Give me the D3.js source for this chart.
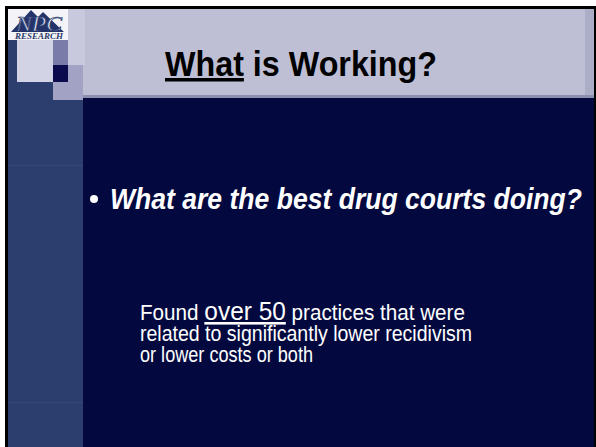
<!DOCTYPE html>
<html>
<head>
<meta charset="utf-8">
<script src="https://cdn.jsdelivr.net/npm/d3@7"></script>
<style>
  html, body { margin: 0; padding: 0; background: #fff; }
  svg { display: block; }
</style>
</head>
<body>
<div id="slide"></div>
<script>
// slide content
var titleParts = [
  {text: "What", underline: true},
  {text: " is Working?", underline: false}
];
var bulletLines = ["What are the best drug courts doing?"];
var bodyLines = [
  [{text: "Found ", big: false}, {text: "over 50", big: true, underline: true}, {text: " practices that were", big: false}],
  [{text: "related to significantly lower recidivism", big: false}],
  [{text: "or lower costs or both", big: false}]
];
var logoWords = ["NPC", "RESEARCH"];

var width = 596, height = 447;

var svg = d3.select("#slide")
    .append("svg")
    .attr("width", width)
    .attr("height", height);

// frame + backgrounds
svg.append("rect").attr("x", 0).attr("y", 0).attr("width", width).attr("height", height).style("fill", "#fff");
svg.append("rect").attr("x", 5).attr("y", 6).attr("width", 591).attr("height", 441).style("fill", "#000");
svg.append("rect").attr("x", 8).attr("y", 9).attr("width", 586).attr("height", 438).style("fill", "#03093f");

// left stripe
svg.append("rect").attr("x", 8).attr("y", 9).attr("width", 75).attr("height", 438).style("fill", "#2b3e6e");
svg.append("rect").attr("x", 8).attr("y", 165).attr("width", 75).attr("height", 1).style("fill", "#33477a");
svg.append("rect").attr("x", 8).attr("y", 402).attr("width", 75).attr("height", 1).style("fill", "#33477a");

// title band
svg.append("rect").attr("x", 53).attr("y", 9).attr("width", 541).attr("height", 89).style("fill", "#bebfd5");
svg.append("rect").attr("x", 585).attr("y", 9).attr("width", 9).attr("height", 89).style("fill", "#acadc6");
svg.append("rect").attr("x", 68).attr("y", 9).attr("width", 17).attr("height", 56).style("fill", "#c9c9dd");
svg.append("rect").attr("x", 83).attr("y", 95).attr("width", 511).attr("height", 3).style("fill", "#8d8fb0");

// decorative squares
var squares = [
  {x: 53, y: 65, w: 30, h: 35, c: "#a2a3c4"},
  {x: 17, y: 40, w: 36, h: 42, c: "#d3d3e6"},
  {x: 53, y: 40, w: 15, h: 25, c: "#7b7baa"},
  {x: 53, y: 65, w: 15, h: 17, c: "#0b0b4d"}
];
svg.append("g").selectAll("rect")
    .data(squares)
    .enter()
    .append("rect")
    .attr("x", function (d) { return d.x; })
    .attr("y", function (d) { return d.y; })
    .attr("width", function (d) { return d.w; })
    .attr("height", function (d) { return d.h; })
    .style("fill", function (d) { return d.c; });

// logo box
svg.append("rect").attr("x", 8).attr("y", 9).attr("width", 60).attr("height", 31).style("fill", "#f4f4f8");
var logo = svg.append("g");
logo.append("path")
    .attr("d", "M11,32 L31,10 L38,17 L43,12 L64,32 Z")
    .style("fill", "#24346a");
logo.append("text")
    .attr("x", 16).attr("y", 31)
    .attr("textLength", 46)
    .attr("lengthAdjust", "spacingAndGlyphs")
    .style("font-family", "'Liberation Serif', serif")
    .style("font-style", "italic")
    .style("font-size", "22px")
    .style("fill", "#dfe1ee")
    .style("stroke", "#24346a")
    .style("stroke-width", 0.7)
    .text(logoWords[0]);
logo.append("text")
    .attr("x", 15).attr("y", 39)
    .attr("textLength", 48)
    .attr("lengthAdjust", "spacingAndGlyphs")
    .style("font-family", "'Liberation Serif', serif")
    .style("font-style", "italic")
    .style("font-weight", "bold")
    .style("font-size", "9px")
    .style("fill", "#2a3a6a")
    .text(logoWords[1]);

// title
var title = svg.append("text")
    .attr("x", 165).attr("y", 76)
    .attr("textLength", 272)
    .attr("lengthAdjust", "spacingAndGlyphs")
    .style("font-family", "'Liberation Sans', Arial, sans-serif")
    .style("font-weight", "bold")
    .style("font-size", "35px")
    .style("fill", "#000");
title.selectAll("tspan")
    .data(titleParts)
    .enter()
    .append("tspan")
    .style("text-decoration", function (d) { return d.underline ? "underline" : null; })
    .text(function (d) { return d.text; });

// bullet
svg.append("g").selectAll("circle")
    .data(bulletLines)
    .enter()
    .append("circle")
    .attr("cx", 94).attr("cy", 199).attr("r", 4)
    .style("fill", "#fff");
svg.append("g").selectAll("text")
    .data(bulletLines)
    .enter()
    .append("text")
    .attr("x", 110).attr("y", 209)
    .attr("textLength", 472)
    .attr("lengthAdjust", "spacingAndGlyphs")
    .style("font-family", "'Liberation Sans', Arial, sans-serif")
    .style("font-weight", "bold")
    .style("font-style", "italic")
    .style("font-size", "30px")
    .style("fill", "#fff")
    .text(function (d) { return d; });

// body text
var lineEnds = [465, 472, 313];
var body = svg.append("g").selectAll("text")
    .data(bodyLines)
    .enter()
    .append("text")
    .attr("x", 140)
    .attr("y", function (d, i) { return 320 + i * 21; })
    .attr("textLength", function (d, i) { return lineEnds[i] - 140; })
    .attr("lengthAdjust", "spacingAndGlyphs")
    .style("font-family", "'Liberation Sans', Arial, sans-serif")
    .style("font-size", "22px")
    .style("fill", "#fff");
body.selectAll("tspan")
    .data(function (d) { return d; })
    .enter()
    .append("tspan")
    .style("font-size", function (d) { return d.big ? "26px" : null; })
    .style("text-decoration", function (d) { return d.underline ? "underline" : null; })
    .text(function (d) { return d.text; });
</script>
</body>
</html>
